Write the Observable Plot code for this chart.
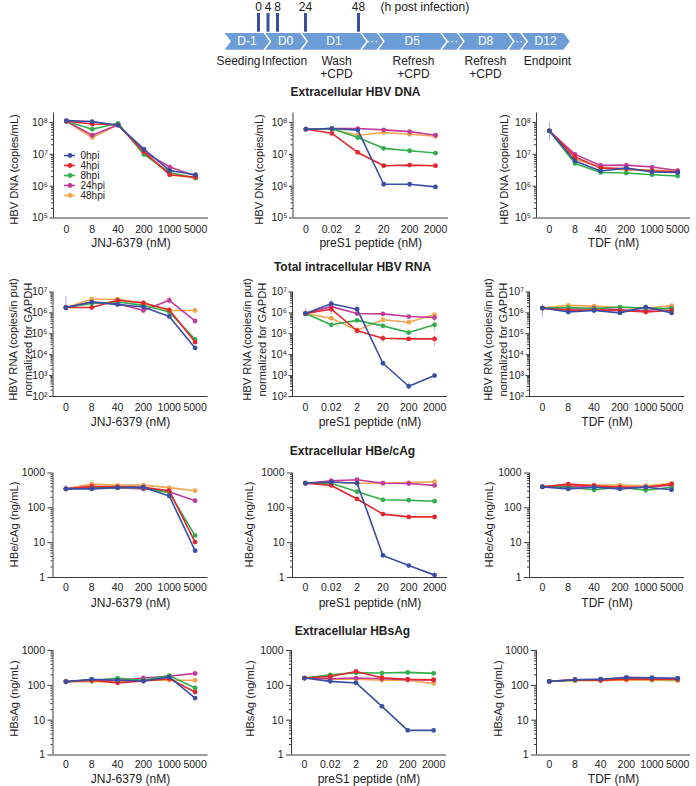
<!DOCTYPE html>
<html>
<head>
<meta charset="utf-8">
<script src="https://cdn.jsdelivr.net/npm/d3@7"></script>
<script src="https://cdn.jsdelivr.net/npm/@observablehq/plot@0.6"></script>
<style>
  body { margin: 0; background: #fff; font-family: "Liberation Sans", Arial, Helvetica, sans-serif; }
  #fig { position: relative; width: 696px; height: 786px; overflow: hidden; background: #fff; }
  .box { position: absolute; }
  .rowtitle { position: absolute; font-weight: bold; font-size: 12px; line-height: 14px; white-space: nowrap; color: #222; transform: translateX(-50%); }
</style>
</head>
<body>
<div id="fig"></div>
<script>
// ---------------- data ----------------
const series = ["0hpi", "4hpi", "8hpi", "24hpi", "48hpi"];
const colors = ["#3b4ea3", "#e2272d", "#30ae4b", "#c43a98", "#f3a54f"];

const jnjDoses = ["0", "8", "40", "200", "1000", "5000"];
const preS1Doses = ["0", "0.02", "2", "20", "200", "2000"];
const tdfDoses = ["0", "8", "40", "200", "1000", "5000"];

const rowTitles = ["Extracellular HBV DNA", "Total intracellular HBV RNA", "Extracellular HBe/cAg", "Extracellular HBsAg"];
const yLabels = ["HBV DNA (copies/mL)", "HBV RNA (copies/in put)\nnormalized for GAPDH", "HBe/cAg (ng/mL)", "HBsAg (ng/mL)"];
const xLabels = ["JNJ-6379 (nM)", "preS1 peptide (nM)", "TDF (nM)"];

// each: rows = series (0hpi, 4hpi, 8hpi, 24hpi, 48hpi), columns = doses
const dnaJNJ = [
  [1.15e8, 1.07e8, 8.2e7, 1.47e7, 3.1e6, 2.3e6],
  [1.1e8, 9.0e7, 8.5e7, 1.2e7, 2.3e6, 1.9e6],
  [1.1e8, 6.2e7, 9.5e7, 1.0e7, 2.7e6, 1.8e6],
  [1.1e8, 4.0e7, 8.5e7, 1.2e7, 4.0e6, 2.1e6],
  [1.1e8, 3.4e7, 8.5e7, 1.15e7, 2.3e6, 1.8e6]];
const dnaPreS1 = [
  [6.2e7, 6.5e7, 5.8e7, 1.15e6, 1.15e6, 9.5e5],
  [6.2e7, 4.6e7, 1.15e7, 4.4e6, 4.6e6, 4.4e6],
  [6.2e7, 6.5e7, 3.4e7, 1.55e7, 1.3e7, 1.1e7],
  [6.2e7, 6.5e7, 6.5e7, 5.9e7, 5.2e7, 4.0e7],
  [6.2e7, 6.2e7, 4.0e7, 4.9e7, 4.3e7, 3.7e7]];
const dnaTDF = [
  [5.5e7, 6.2e6, 3.0e6, 3.7e6, 2.8e6, 2.7e6],
  [5.5e7, 8.3e6, 3.7e6, 3.6e6, 3.0e6, 2.8e6],
  [5.5e7, 5.2e6, 2.7e6, 2.6e6, 2.3e6, 2.1e6],
  [5.5e7, 1.0e7, 4.5e6, 4.6e6, 4.0e6, 3.1e6],
  [5.5e7, 7.0e6, 4.0e6, 3.2e6, 3.2e6, 3.0e6]];

const rnaJNJ = [
  [1.8e6, 3.3e6, 2.5e6, 1.9e6, 6.8e5, 2.1e4],
  [1.8e6, 1.8e6, 4.0e6, 3.0e6, 1.4e6, 4.0e4],
  [1.8e6, 2.8e6, 3.3e6, 2.3e6, 1.1e6, 5.4e4],
  [1.8e6, 3.3e6, 2.8e6, 1.3e6, 4.0e6, 4.1e5],
  [1.8e6, 4.5e6, 4.5e6, 3.0e6, 1.3e6, 1.3e6]];
const rnaPreS1 = [
  [9.3e5, 2.75e6, 1.5e6, 3.9e3, 3.1e2, 1.0e3],
  [9.3e5, 1.5e6, 1.4e5, 6.1e4, 5.7e4, 5.7e4],
  [9.3e5, 2.7e5, 4.4e5, 2.4e5, 1.15e5, 2.7e5],
  [9.3e5, 2.0e6, 9.3e5, 9.0e5, 6.7e5, 6.0e5],
  [9.3e5, 5.6e5, 1.5e5, 4.7e5, 3.6e5, 8.3e5]];
const rnaTDF = [
  [1.7e6, 1.1e6, 1.3e6, 1.0e6, 1.9e6, 1.0e6],
  [1.7e6, 1.3e6, 1.4e6, 1.3e6, 1.1e6, 1.3e6],
  [1.7e6, 1.8e6, 1.6e6, 1.9e6, 1.7e6, 1.6e6],
  [1.7e6, 1.5e6, 1.7e6, 1.4e6, 1.3e6, 1.7e6],
  [1.7e6, 2.3e6, 2.1e6, 1.8e6, 1.7e6, 2.2e6]];

const hbeJNJ = [
  [350, 350, 380, 390, 220, 5.9],
  [350, 410, 400, 390, 310, 10.4],
  [350, 380, 380, 380, 270, 16],
  [350, 410, 380, 350, 290, 160],
  [350, 480, 440, 450, 380, 310]];
const hbePreS1 = [
  [510, 550, 510, 4.3, 2.2, 1.17],
  [510, 440, 180, 66, 55, 55],
  [510, 510, 290, 170, 165, 155],
  [510, 600, 640, 510, 500, 440],
  [510, 550, 510, 510, 530, 560]];
const hbeTDF = [
  [400, 350, 390, 350, 390, 330],
  [400, 480, 430, 390, 390, 480],
  [400, 390, 330, 390, 320, 390],
  [400, 420, 390, 390, 390, 450],
  [400, 450, 450, 450, 430, 500]];

const hbsJNJ = [
  [128, 150, 140, 133, 175, 43],
  [128, 140, 118, 133, 155, 64],
  [128, 140, 160, 140, 190, 84],
  [128, 140, 140, 163, 182, 220],
  [128, 128, 128, 140, 140, 140]];
const hbsPreS1 = [
  [162, 130, 117, 25, 5.1, 5.1],
  [162, 180, 250, 165, 150, 145],
  [162, 200, 230, 225, 235, 220],
  [162, 155, 162, 155, 145, 140],
  [162, 150, 150, 140, 140, 112]];
const hbsTDF = [
  [130, 145, 150, 170, 165, 160],
  [130, 145, 140, 150, 150, 150],
  [130, 140, 145, 155, 150, 145],
  [130, 145, 150, 160, 160, 155],
  [130, 135, 135, 140, 140, 135]];

// error bars: [series index, dose index, low, high]
const dnaJNJErr = [[4, 1, 3.0e7, 3.9e7], [3, 1, 3.5e7, 4.6e7], [3, 4, 3.4e6, 4.7e6]];
const dnaPreS1Err = [[1, 2, 1.0e7, 1.3e7], [1, 5, 3.9e6, 4.9e6]];
const dnaTDFErr = [[0, 0, 2.7e7, 1.0e8], [0, 2, 2.5e6, 3.5e6]];
const rnaJNJErr = [[0, 0, 1.2e6, 6.0e6], [3, 4, 2.6e6, 6.0e6], [4, 1, 3.6e6, 5.5e6]];
const rnaPreS1Err = [[0, 0, 6e5, 1.6e6], [0, 1, 1.8e6, 4.2e6], [0, 2, 9e5, 2.4e6], [1, 1, 8e5, 2.2e6],
  [1, 3, 4e4, 9e4], [1, 5, 2.5e4, 8e4], [0, 4, 2.2e2, 4.5e2], [2, 5, 1.2e5, 5e5], [4, 2, 1.2e5, 2e5]];
const rnaTDFErr = [[0, 0, 6e5, 2.5e6], [4, 1, 1.8e6, 2.8e6], [0, 4, 1.4e6, 2.5e6], [0, 2, 1.0e6, 1.6e6]];
const hbeJNJErr = [[0, 0, 310, 440]];
const hbePreS1Err = [[0, 5, 1.0, 1.4]];
const hbeTDFErr = [];
const hbsJNJErr = [[0, 0, 100, 140]];
const hbsPreS1Err = [];
const hbsTDFErr = [];

const yDomains = [[1e5, 2e8], [1e2, 1e7], [1, 1000], [1, 1000]];
const yMajor = [[1e5, 1e6, 1e7, 1e8], [1e2, 1e3, 1e4, 1e5, 1e6, 1e7], [1, 10, 100, 1000], [1, 10, 100, 1000]];

// timeline
const stageLabels = ["D-1", "D0", "D1", "···", "D5", "···", "D8", "···", "D12"];
const stageNotes = ["Seeding", "Infection", "Wash\n+CPD", "", "Refresh\n+CPD", "", "Refresh\n+CPD", "", "Endpoint"];
const hpiTicks = [0, 4, 8, 24, 48];

// ---------------- layout ----------------
const panels = [[dnaJNJ, dnaPreS1, dnaTDF], [rnaJNJ, rnaPreS1, rnaTDF], [hbeJNJ, hbePreS1, hbeTDF], [hbsJNJ, hbsPreS1, hbsTDF]];
const panelErr = [[dnaJNJErr, dnaPreS1Err, dnaTDFErr], [rnaJNJErr, rnaPreS1Err, rnaTDFErr], [hbeJNJErr, hbePreS1Err, hbeTDFErr], [hbsJNJErr, hbsPreS1Err, hbsTDFErr]];
const doseSets = [jnjDoses, preS1Doses, tdfDoses];

const colBox = [{left: 0, width: 230}, {left: 230, width: 230}, {left: 460, width: 236}];
const axisAt = [[53, 292.5, 536], [52.5, 292, 529], [52.5, 292, 529], [52.5, 291, 536]];
const axisEnd = [[208, 448, 690], [207.5, 447, 684], [207.5, 447, 684], [207.5, 446, 690]];
const rowBox = [
  {top: 100, height: 150, mt: 12.5, mb: 32.5, pad: 8, xt: 25.5, yc: 169, tsz: 3.5, tpad: 2},
  {top: 280, height: 150, mt: 11.5, mb: 34, pad: 7, xt: 25.7, yc: 339, tsz: 3.5, tpad: 2},
  {top: 460, height: 150, mt: 12.5, mb: 33, pad: 6, xt: 25.3, yc: 524, tsz: 5, tpad: 3},
  {top: 637, height: 149, mt: 13, mb: 31.5, pad: 6, xt: 24, yc: 698, tsz: 5, tpad: 3}];
const yLabelX = [[13.3, 258.3, 503], [19.2, 253.3, 494.3], [13, 248, 487.7], [13, 249, 497]];
const titleAt = [[355.5, 85], [352.5, 260], [352.5, 444], [352.5, 624]];

const FONT = "'Liberation Sans', Arial, Helvetica, sans-serif";
const AXIS = "#3a3a3a";
const TEXT = "#222";
const SUP = "⁰¹²³⁴⁵⁶⁷⁸⁹";
const drawOrder = [4, 3, 2, 1, 0];

const fig = document.getElementById("fig");
function place(node, left, top) {
  const d = document.createElement("div");
  d.className = "box";
  d.style.left = left + "px";
  d.style.top = top + "px";
  d.appendChild(node);
  fig.appendChild(d);
  return d;
}
function minorTicks([lo, hi]) {
  const t = [];
  for (let e = Math.floor(Math.log10(lo)); e <= Math.ceil(Math.log10(hi)); e++)
    for (let k = 2; k <= 9; k++) { const v = k * 10 ** e; if (v > lo && v < hi) t.push(v); }
  return t;
}

function makePanel(r, c) {
  const vals = panels[r][c];
  const doses = doseSets[c];
  const R = rowBox[r], C = colBox[c];
  const ml = axisAt[r][c] - C.left;
  const mr = C.left + C.width - axisEnd[r][c];
  const frameMid = R.top + R.mt + (R.height - R.mt - R.mb) / 2;
  const fmt = r < 2 ? (d => "10" + SUP[Math.round(Math.log10(d))]) : (d => String(d));
  const errs = panelErr[r][c].map(([s, i, lo, hi]) => ({s: series[s], i, lo, hi}));
  const marks = [
    Plot.ruleY([yDomains[r][0]], {stroke: AXIS, strokeWidth: 1}),
    Plot.ruleX([-0.5], {stroke: AXIS, strokeWidth: 1}),
    Plot.axisY({ticks: minorTicks(yDomains[r]), tickSize: 2, tickFormat: () => "", label: null, stroke: AXIS}),
    Plot.axisY({ticks: yMajor[r], tickSize: R.tsz, tickPadding: R.tpad, tickFormat: fmt, label: null,
      stroke: AXIS, fill: TEXT, fontSize: 10.5}),
    Plot.axisX({ticks: d3.range(doses.length), tickSize: 0, tickPadding: R.pad, tickFormat: i => doses[i],
      label: null, fill: TEXT, fontSize: 10.5}),
    Plot.ruleX(errs, {x: "i", y1: "lo", y2: "hi", stroke: "s", strokeOpacity: 0.45, strokeWidth: 1})
  ];
  for (const s of drawOrder) {
    const d = vals[s].map((v, i) => ({s: series[s], i, v}));
    marks.push(Plot.line(d, {x: "i", y: "v", stroke: "s", strokeWidth: 1.6}));
    marks.push(Plot.dot(d, {x: "i", y: "v", fill: "s", r: 2.4}));
  }
  marks.push(Plot.text([yLabels[r]], {
    text: d => d, frameAnchor: "left", rotate: -90, textAnchor: "middle", lineAnchor: "middle",
    dx: yLabelX[r][c] - axisAt[r][c], dy: R.yc - frameMid, fontSize: 11.2, lineHeight: 1.3, fill: TEXT
  }));
  marks.push(Plot.text([xLabels[c]], {
    text: d => d, frameAnchor: "bottom", lineAnchor: "middle", dy: R.xt, fontSize: 12, fill: TEXT
  }));
  const p = Plot.plot({
    width: C.width, height: R.height,
    marginLeft: ml, marginRight: mr, marginTop: R.mt, marginBottom: R.mb,
    x: {type: "linear", domain: [-0.5, doses.length - 0.5], label: null},
    y: {type: "log", domain: yDomains[r], label: null},
    color: {type: "ordinal", domain: series, range: colors},
    style: {fontFamily: FONT, fontSize: "11px", color: TEXT, background: "transparent", overflow: "visible"},
    marks
  });
  place(p, C.left, R.top);
}

for (let r = 0; r < 4; r++) for (let c = 0; c < 3; c++) makePanel(r, c);

// row titles
rowTitles.forEach((t, r) => {
  const d = document.createElement("div");
  d.className = "rowtitle";
  d.textContent = t;
  d.style.left = titleAt[r][0] + "px";
  d.style.top = titleAt[r][1] + "px";
  fig.appendChild(d);
});

// legend inside first panel
const legend = Plot.plot({
  width: 70, height: 54, margin: 0, axis: null,
  x: {domain: [0, 1], range: [4, 15]},
  y: {type: "point", domain: series, range: [4, 46.4], padding: 0},
  color: {type: "ordinal", domain: series, range: colors},
  style: {fontFamily: FONT, fontSize: "10px", color: TEXT, background: "transparent", overflow: "visible"},
  marks: [
    Plot.ruleY(series, {y: d => d, x1: 0, x2: 1, stroke: d => d, strokeWidth: 1.6}),
    Plot.dot(series, {x: 0.5, y: d => d, fill: d => d, r: 2.4}),
    Plot.text(series, {x: 1, y: d => d, text: d => d, textAnchor: "start", dx: 5, fontSize: 10, fill: TEXT})
  ]
});
place(legend, 60, 150);

// timeline schematic
const stageEdges = [222.7, 263.3, 300, 360, 376.7, 440, 456.7, 506.7, 520, 563.3];
const noteX = [238, 284, 336, 0, 413, 0, 485, 0, 547];
const chevTop = 31.7, chevBot = 50, chevMid = 40.85, chevDepth = 6.8;
const hourX = d3.scaleLinear([0, 8, 24, 48], [258, 277, 305, 358]);
const chevPts = [];
stageLabels.forEach((lab, k) => {
  const a = stageEdges[k], b = stageEdges[k + 1];
  [[a, chevTop], [b, chevTop], [b + chevDepth, chevMid], [b, chevBot], [a, chevBot], [a + chevDepth, chevMid], [a, chevTop]]
    .forEach(([x, y]) => chevPts.push({k, x, y}));
});
const stages = stageLabels.map((lab, k) => ({lab, note: stageNotes[k],
  cx: (stageEdges[k] + stageEdges[k + 1]) / 2 + chevDepth / 2, nx: noteX[k]}));
const timeline = Plot.plot({
  width: 696, height: 88, margin: 0, axis: null,
  x: {type: "linear", domain: [0, 696], range: [0, 696]},
  y: {type: "linear", domain: [0, 88], range: [0, 88]},
  style: {fontFamily: FONT, fontSize: "12px", color: TEXT, background: "transparent"},
  marks: [
    Plot.line(chevPts, {x: "x", y: "y", z: "k", fill: "#6d9dd6", stroke: "#ffffff", strokeWidth: 1.4, curve: "linear"}),
    Plot.text(stages, {x: "cx", y: chevMid, text: "lab", fill: "white", fontSize: 12, lineAnchor: "middle"}),
    Plot.text(stages.filter(d => d.note), {x: "nx", y: 55, text: "note", fontSize: 12, lineAnchor: "top", lineHeight: 1.08, fill: TEXT}),
    Plot.ruleX(hpiTicks, {x: d => hourX(d), y1: 13, y2: chevTop, stroke: "#3b4ea3", strokeWidth: 3}),
    Plot.text(hpiTicks, {x: d => hourX(d), y: 6.5, text: d => String(d), fontSize: 12, lineAnchor: "middle", fill: TEXT}),
    Plot.text(["(h post infection)"], {x: 380, y: 6.5, text: d => d, textAnchor: "start", fontSize: 12, lineAnchor: "middle", fill: TEXT})
  ]
});
place(timeline, 0, 0);
</script>
</body>
</html>
